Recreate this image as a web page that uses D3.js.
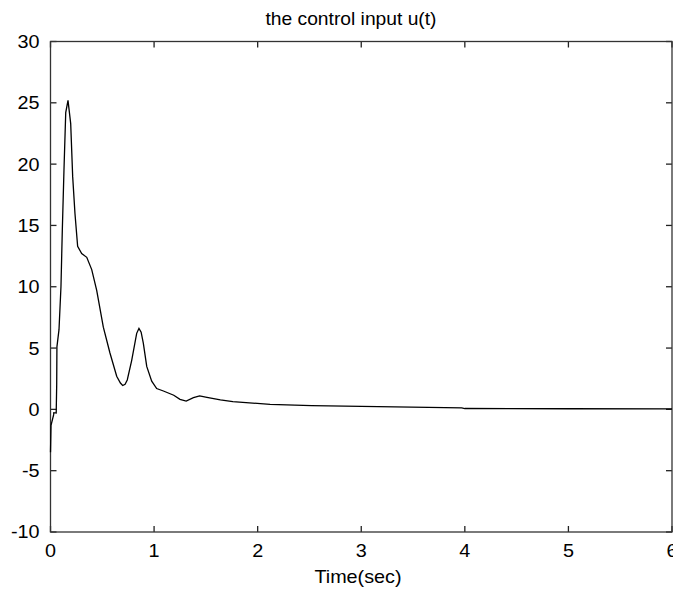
<!DOCTYPE html>
<html>
<head>
<meta charset="utf-8">
<script src="https://cdn.jsdelivr.net/npm/d3@7"></script>
<style>
  body { margin: 0; background: #fff; }
  text { font-family: "Liberation Sans", Arial, sans-serif; fill: #000; }
</style>
</head>
<body>
<script>
// control input u(t)
var timeSec = [0, 0.005, 0.03, 0.032, 0.055, 0.06, 0.062, 0.082, 0.101, 0.114, 0.13, 0.147, 0.169,
  0.195, 0.214, 0.236, 0.262, 0.301, 0.35, 0.398, 0.446, 0.51, 0.574, 0.639, 0.675, 0.697, 0.72, 0.741, 0.784,
  0.832, 0.854, 0.875, 0.896, 0.929, 0.977, 1.025, 1.09, 1.19, 1.25, 1.31, 1.38, 1.44, 1.51, 1.64, 1.76,
  2.12, 2.52, 3.0, 3.97, 4.0, 5.0, 6.0];
var uValues = [-3.5, -1.3, -0.45, -0.27, -0.3, 2.1, 5.1, 6.5, 10, 14.6, 19.5, 24.2, 25.2,
  23.3, 19, 16, 13.3, 12.7, 12.4, 11.4, 9.7, 6.7, 4.6, 2.7, 2.15, 1.95, 2.05, 2.4, 4.0,
  6.2, 6.6, 6.3, 5.4, 3.5, 2.3, 1.7, 1.5, 1.15, 0.82, 0.68, 0.95, 1.1, 0.98, 0.77, 0.63,
  0.41, 0.30, 0.25, 0.12, 0.07, 0.05, 0.04];
var xTicks = [0, 1, 2, 3, 4, 5, 6];
var yTicks = [-10, -5, 0, 5, 10, 15, 20, 25, 30];

var width = 673, height = 594;
var margin = {top: 41.5, right: 1, bottom: 62, left: 50.5};

var svg = d3.select("body").append("svg")
  .attr("width", width)
  .attr("height", height);

var xScale = d3.scaleLinear().domain([0, 6]).range([margin.left, width - margin.right]);
var yScale = d3.scaleLinear().domain([-10, 30]).range([height - margin.bottom, margin.top]);

var x0 = xScale(0), x1 = xScale(6), y0 = yScale(-10), y1 = yScale(30);

// text drawn slightly wider than normal, like the original
function stretch(sel) {
  sel.attr("transform", function() {
    var x = +this.getAttribute("x"), y = +this.getAttribute("y");
    return `translate(${x},${y}) scale(1.1,1) translate(${-x},${-y})`;
  });
}

// ticks on all four sides, pointing inward
var tickLen = 6;
svg.append("g").selectAll("line").data(xTicks).join("line")
  .attr("x1", d => xScale(d)).attr("x2", d => xScale(d))
  .attr("y1", y0).attr("y2", y0 - tickLen)
  .attr("stroke", "#222").attr("stroke-width", 1.3);
svg.append("g").selectAll("line").data(xTicks).join("line")
  .attr("x1", d => xScale(d)).attr("x2", d => xScale(d))
  .attr("y1", y1).attr("y2", y1 + tickLen)
  .attr("stroke", "#222").attr("stroke-width", 1.3);
svg.append("g").selectAll("line").data(yTicks).join("line")
  .attr("x1", x0).attr("x2", x0 + tickLen)
  .attr("y1", d => yScale(d)).attr("y2", d => yScale(d))
  .attr("stroke", "#222").attr("stroke-width", 1.3);
svg.append("g").selectAll("line").data(yTicks).join("line")
  .attr("x1", x1).attr("x2", x1 - tickLen)
  .attr("y1", d => yScale(d)).attr("y2", d => yScale(d))
  .attr("stroke", "#222").attr("stroke-width", 1.3);

// box
svg.append("rect")
  .attr("x", x0).attr("y", y1)
  .attr("width", x1 - x0).attr("height", y0 - y1)
  .attr("fill", "none").attr("stroke", "#333").attr("stroke-width", 1.3);

// curve
var line = d3.line()
  .x((d, i) => xScale(timeSec[i]))
  .y(d => yScale(d));
svg.append("path")
  .datum(uValues)
  .attr("d", line)
  .attr("fill", "none")
  .attr("stroke", "#000")
  .attr("stroke-width", 1.3);

// tick labels
svg.append("g").selectAll("text").data(xTicks).join("text")
  .attr("x", d => xScale(d)).attr("y", y0 + 25)
  .attr("text-anchor", "middle")
  .style("font-size", "18px")
  .text(d => d)
  .call(stretch);
svg.append("g").selectAll("text").data(yTicks).join("text")
  .attr("x", x0 - 11).attr("y", d => yScale(d) + 6.5)
  .attr("text-anchor", "end")
  .style("font-size", "18px")
  .text(d => d)
  .call(stretch);

// title and x label
svg.append("text")
  .attr("x", 351).attr("y", 25)
  .attr("text-anchor", "middle")
  .style("font-size", "17.5px")
  .text("the control input u(t)")
  .call(stretch);
svg.append("text")
  .attr("x", 358).attr("y", 583)
  .attr("text-anchor", "middle")
  .style("font-size", "18px")
  .text("Time(sec)")
  .call(stretch);
</script>
</body>
</html>
